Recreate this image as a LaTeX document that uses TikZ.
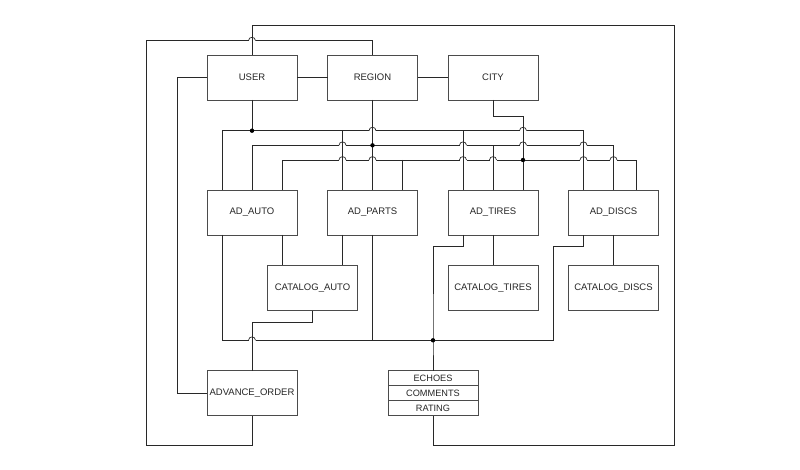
\documentclass[tikz,border=0pt]{standalone}
\usepackage{fontspec}
\setmainfont{Liberation Sans}
\usepackage{tikz}
\usetikzlibrary{calc, positioning}
\definecolor{boxGray}{RGB}{75,75,75}
\definecolor{lineGray}{RGB}{40,40,40}

\tikzset{
  entity/.style={draw=boxGray, line width=0.95pt, fill=white, minimum width=90pt, minimum height=45pt,
    inner sep=0pt, outer sep=0pt, text=black!85, font=\fontsize{9.5}{11}\selectfont},
  row/.style={entity, minimum height=15pt, font=\fontsize{9.2}{10}\selectfont},
  link/.style={draw=lineGray, line width=0.7pt},
}
% small bump where a horizontal wire jumps over a vertical one
\newcommand{\wirehop}[2]{%
  \fill[white] ($(#1 |- #2)+(-3.5,-1.2)$) rectangle ($(#1 |- #2)+(3.5,1.2)$);
  \draw[link] ($(#1 |- #2)+(-3.5,0)$) .. controls +(0,-4.5) and +(0,-4.5) .. ($(#1 |- #2)+(3.5,0)$);
  \draw[link] ($(#1 |- #2)+(0,-6)$) -- ($(#1 |- #2)+(0,6)$);
}

\begin{document}
\begin{tikzpicture}[x=1pt, y=-1pt]
  \useasboundingbox (0,0) rectangle (800,470);

  % tables
  \node[entity] (user) at (252,77.5) {USER};
  \node[entity] (region) at (372.5,77.5) {REGION};
  \node[entity] (city) at (493,77.5) {CITY};
  \node[entity] (adauto) at (252,212.5) {AD\_AUTO};
  \node[entity] (adparts) at (372.5,212.5) {AD\_PARTS};
  \node[entity] (adtires) at (493,212.5) {AD\_TIRES};
  \node[entity] (addiscs) at (613.5,212.5) {AD\_DISCS};
  \node[entity] (catauto) at (312.5,288) {CATALOG\_AUTO};
  \node[entity] (cattires) at (493,288) {CATALOG\_TIRES};
  \node[entity] (catdiscs) at (613.5,288) {CATALOG\_DISCS};
  \node[entity] (order) at (252,393.2) {ADVANCE\_ORDER};
  \node[row] (echoes) at (433,378.2) {ECHOES};
  \node[row, below=0pt of echoes] (comments) {COMMENTS};
  \node[row, below=0pt of comments] (rating) {RATING};

  % wire levels
  \coordinate (busU) at (0,130.7);
  \coordinate (busR) at (0,145.3);
  \coordinate (busC) at (0,160);
  \coordinate (busB) at (0,340.3);
  \coordinate (knee) at (0,246.7);
  \coordinate (ne) at (674,25);
  \coordinate (se) at (674,445.5);
  \coordinate (nw) at (146,40.7);
  \coordinate (sw) at (146,445.5);

  \foreach \b in {adauto,adparts,adtires,addiscs}{
    \coordinate (\b-u) at ([xshift=15pt]\b.north west);
    \coordinate (\b-r) at (\b.north);
    \coordinate (\b-c) at ([xshift=75pt]\b.north west);
    \coordinate (\b-l) at ([xshift=15pt]\b.south west);
    \coordinate (\b-m) at (\b.south);
  }
  \coordinate (addiscs-c) at ([xshift=68pt]addiscs.north west);
  \coordinate (hub) at ([xshift=-30pt]adtires-l |- busB);

  % outer loops
  \draw[link] (user.north) |- (ne) -- (se) -| (rating.south);
  \draw[link] (region.north) |- (nw) -- (sw) -| (order.south);
  \draw[link] (user.west) -- ++(-29.5,0) |- (order.west);
  \draw[link] (user.east) -- (region.west);
  \draw[link] (region.east) -- (city.west);

  % upper buses
  \draw[link] (adauto-u) |- (addiscs-u |- busU) -- (addiscs-u);
  \draw[link] (adauto-r) |- (addiscs-r |- busR) -- (addiscs-r);
  \draw[link] (adauto-c) |- (addiscs-c |- busC) -- (addiscs-c);
  \draw[link] (user.south) -- (user.south |- busU);
  \draw[link] (adparts-u |- busU) -- (adparts-u);
  \draw[link] (adtires-u |- busU) -- (adtires-u);
  \draw[link] (region.south) -- (adparts-r);
  \draw[link] (adtires-r |- busR) -- (adtires-r);
  \draw[link] (adparts-c |- busC) -- (adparts-c);
  \draw[link] (city.south) -- ++(0,16.7) -| (adtires-c);

  % lower bus and catalogs
  \draw[link] (adauto-l) |- ([xshift=-30pt]addiscs-l |- busB) |- (addiscs-l |- knee) -- (addiscs-l);
  \draw[link] (adparts-m) -- (adparts-m |- busB);
  \draw[link] (adtires-l) -- (adtires-l |- knee) -| (hub) -- (echoes.north);
  \draw[link] ([xshift=75pt]adauto.south west) -- ([xshift=75pt]adauto.south west |- catauto.north);
  \draw[link] (adparts-l) -- (adparts-l |- catauto.north);
  \draw[link] (adtires-m) -- (cattires.north);
  \draw[link] (addiscs-m) -- (catdiscs.north);
  \draw[link] (catauto.south) -- ++(0,11.7) -| (order.north);

  % crossings and joints
  \foreach \a/\c in {user.north/nw, adparts-r/busU, adtires-c/busU,
      adparts-u/busR, adtires-u/busR, adtires-c/busR, addiscs-u/busR,
      adparts-u/busC, adparts-r/busC, adtires-u/busC, adtires-r/busC, addiscs-u/busC, addiscs-r/busC,
      order.north/busB}
    \wirehop{\a}{\c};
  \foreach \a/\c in {user.south/busU, region.south/busR, adtires-c/busC, hub/busB}
    \fill[black] (\a |- \c) circle (2.2);
\end{tikzpicture}
\end{document}
